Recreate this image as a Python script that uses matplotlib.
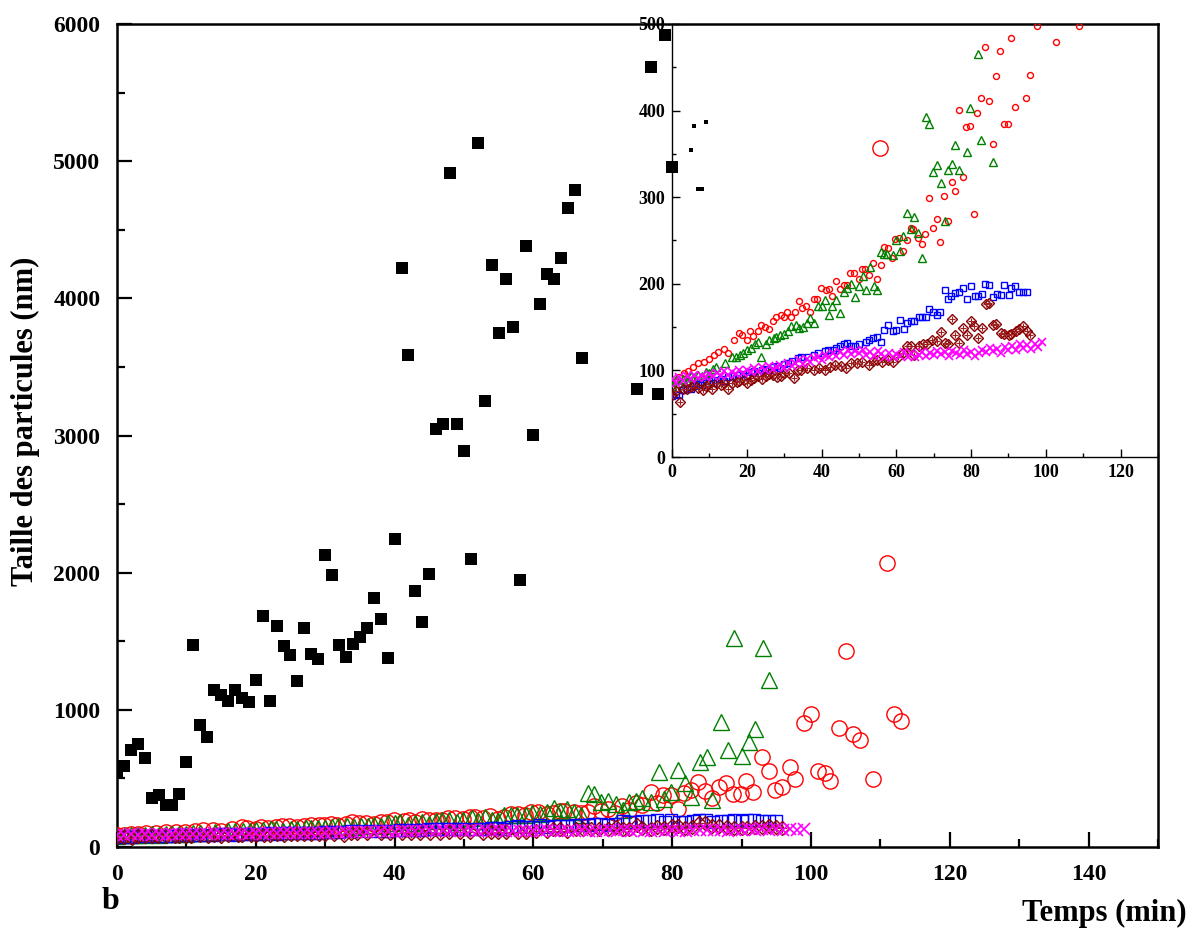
import matplotlib
matplotlib.use("Agg")
import matplotlib.pyplot as plt
from matplotlib.ticker import MultipleLocator

plt.rcParams['font.family'] = ['Liberation Serif', 'DejaVu Serif']
plt.rcParams['font.weight'] = 'bold'

# black filled squares
black_x = [0, 1, 2, 3, 4, 5, 6, 7, 8, 9, 10, 11, 12, 13, 14, 15, 16, 17, 18, 19,
           20, 21, 22, 23, 24, 25, 26, 27, 28, 29, 30, 31, 32, 33, 34, 35, 36, 37, 38, 39,
           40, 41, 42, 43, 44, 45, 46, 47, 48, 49, 50, 51, 52, 53, 54, 55, 56, 57, 58, 59,
           60, 61, 62, 63, 64, 65, 66, 67, 75, 77, 78, 79, 80]
black_y = [540, 590, 707, 749, 647, 355, 382, 310, 310, 387,
           620, 1475, 889, 802, 1147, 1108, 1067, 1142, 1086, 1057,
           1215, 1682, 1062, 1611, 1463, 1400, 1208, 1597, 1409, 1373,
           2126, 1981, 1475, 1387, 1480, 1531, 1599, 1813, 1660, 1378,
           2248, 4221, 3587, 1869, 1640, 1988, 3050, 3086, 4916, 3086,
           2885, 2102, 5130, 3249, 4243, 3750, 4143, 3791, 1949, 4381,
           3006, 3956, 4180, 4141, 4292, 4661, 4792, 3563, 3337, 5686, 3300, 5920, 4957]

# red open circles
red_x = [0, 1, 2, 3.1, 4.2, 5.6, 7.0, 8.5, 9.8, 11.2, 12.4, 13.8, 15.0, 16.6, 18.0, 18.8,
         20.0, 20.8, 21.8, 22.9, 23.8, 24.8, 25.9, 27.0, 27.9, 29.1, 29.9, 30.8, 31.7, 33.0,
         33.9, 34.9, 35.9, 37.0, 38.0, 38.9, 39.9, 41.3, 42.1, 42.9, 43.9, 44.9, 45.9, 46.9,
         47.7, 48.7, 49.9, 50.9, 51.6, 52.8, 53.8, 54.9, 55.8, 56.8, 57.8, 58.8, 59.7, 60.7,
         61.9, 62.8, 63.8, 64.4, 65.8, 66.8, 67.8, 68.8, 69.8, 70.8, 71.7, 72.8, 73.8, 74.8,
         75.7, 76.9, 77.8, 78.7, 79.8, 80.8, 81.7, 82.7, 83.7, 84.8, 85.8, 86.7, 87.7, 88.7,
         89.9, 90.7, 91.7, 93, 94, 94.8, 95.8, 97, 97.7, 99, 100, 101, 102, 102.7, 104, 105,
         106, 107, 108.9, 110, 111, 112, 113]
red_y = [85, 88, 92, 97, 99, 104, 109, 110, 113, 118, 121, 125, 120, 135, 143, 141,
         135, 145, 140, 146, 152, 150, 148, 157, 162, 164, 162, 167, 162, 168,
         180, 172, 174, 168, 183, 183, 195, 193, 194, 186, 203, 194, 199, 199,
         213, 212, 206, 217, 217, 210, 224, 206, 222, 242, 241, 230, 252, 253,
         238, 251, 264, 263, 253, 246, 257, 299, 265, 275, 248, 301, 272, 318,
         307, 401, 323, 381, 382, 281, 397, 415, 473, 411, 361, 440, 469, 385,
         385, 484, 404, 658, 556, 414, 441, 581, 498, 902, 967, 556, 537, 479, 865, 1429,
         824, 780, 498, 5100, 2070, 970, 920]

# green open triangles
green_x = [0, 1.1, 2, 3, 4, 5, 6, 7, 8, 9, 10, 10.9, 11.9, 14.1, 16.0, 17.0, 18.2, 19.1,
           20.1, 21.0, 22.2, 22.9, 23.9, 25.1, 26.0, 27.2, 27.9, 28.9, 30.0, 31.0, 31.9,
           33.1, 34.1, 35.1, 36.2, 37.0, 38.0, 39.1, 40.1, 40.8, 42.0, 42.9, 43.9, 44.9,
           45.9, 46.9, 47.8, 49.0, 49.9, 51.2, 52.0, 53.0, 54.0, 54.9, 55.8, 56.8, 57.6,
           59.0, 59.8, 61.0, 61.9, 62.9, 63.8, 64.8, 65.8, 66.9, 67.9, 68.8, 69.8, 70.8,
           71.9, 72.9, 73.8, 74.8, 75.7, 76.9, 78.1, 78.8, 79.8, 80.8, 81.8, 82.7, 84, 85,
           85.8, 87, 88, 88.9, 90, 91, 92, 93.1, 94]
green_y = [82, 89, 86, 90, 88, 93, 91, 95, 94, 98, 97, 102, 104, 108, 116, 116, 118, 120,
           123, 126, 131, 133, 116, 131, 135, 137, 139, 141, 142, 145, 151,
           152, 149, 150, 155, 160, 155, 174, 174, 181, 164, 174, 181, 166,
           190, 195, 200, 185, 197, 209, 193, 219, 198, 193, 237, 234, 234,
           233, 250, 238, 255, 282, 263, 277, 259, 230, 393, 385, 329, 337,
           316, 273, 331, 338, 360, 331, 549, 352, 403, 561, 465, 366, 617, 654,
           341, 914, 707, 1524, 663, 763, 858, 1451, 1217]

# blue open squares
blue_x = [0, 1, 2, 3, 4, 5, 6, 7, 8, 9, 10, 11, 12, 13, 14, 15, 16, 17, 18, 19, 20,
          21, 22, 23, 24, 25, 26, 27, 28, 29, 30, 31, 32, 33.7, 34.6, 36.5, 38.0, 39.1,
          40.8, 41.8, 43.0, 43.9, 44.9, 45.9, 46.9, 47.8, 49.0, 49.9, 51.8, 52.8, 53.9,
          54.9, 55.8, 56.8, 57.8, 59.0, 59.9, 61.0, 62.0, 62.9, 63.9, 64.8, 66.0, 66.9,
          67.9, 68.8, 69.8, 70.8, 71.8, 72.9, 73.8, 74.7, 75.7, 76.7, 77.8, 78.9, 79.9,
          81.0, 81.9, 83.0, 83.8, 84.9, 85.9, 87.0, 88.0, 88.9, 90.1, 90.8, 91.8, 92.9,
          93.9, 94.9]
blue_y = [70, 73, 72, 77, 79, 78, 82, 84, 83, 86, 88, 85, 89, 90, 88, 92, 93, 91, 95, 96, 94,
          98, 99, 97, 101, 102, 100, 104, 105, 103, 107, 109, 111, 114, 116, 116, 118, 120,
          122, 124, 124, 126, 128, 130, 132, 128, 128, 130, 133, 135, 137,
          139, 133, 147, 153, 146, 147, 158, 148, 155, 157, 157, 162, 162,
          162, 171, 168, 164, 167, 193, 183, 186, 189, 191, 195, 183, 197,
          186, 186, 188, 200, 199, 185, 188, 187, 199, 187, 195, 198, 190,
          190, 190]

# dark red crossed diamonds
brown_x = [0, 1, 2.1, 3, 4, 5, 5.9, 7, 8.3, 9, 10, 10.7, 12, 13.1, 14, 15, 16, 17.4, 18,
           19.3, 20, 21.2, 22, 23.1, 24, 25.1, 26, 27, 28, 29.1, 30, 31.3, 32.7,
           33.7, 34.6, 36.0, 38.0, 39.4, 41.0, 42.3, 43.7, 45.1, 46.6, 47.8, 49.4, 50.9,
           52.8, 53.9, 54.9, 56.1, 57.8, 59.0, 60.4, 61.9, 62.8, 63.8, 64.8, 66.2, 67.1,
           68.3, 69.5, 70.8, 71.9, 72.9, 73.8, 75.0, 75.7, 76.9, 77.8, 78.8, 80.0, 80.8,
           81.9, 82.8, 83.9, 84.8, 85.8, 86.7, 87.9, 88.9, 90.1, 90.8, 92.0, 92.9, 93.9,
           94.9, 95.8]
brown_y = [72, 76, 64, 78, 79, 81, 83, 80, 77, 82, 84, 79, 85, 83, 86, 79, 85, 87, 88,
           89, 86, 89, 91, 93, 90, 93, 96, 95, 92, 94, 97, 97, 91,
           101, 101, 103, 101, 103, 101, 104, 106, 105, 103, 109, 108, 110,
           106, 111, 112, 110, 112, 110, 116, 120, 128, 128, 118, 128, 131,
           131, 135, 134, 144, 132, 130, 159, 141, 132, 149, 141, 157, 151,
           137, 149, 177, 178, 153, 154, 143, 142, 141, 142, 145, 148, 151,
           146, 141]

# magenta crosses
mag_x = [0, 1, 2, 3, 4, 5, 6, 7, 8, 9, 10, 11, 12, 13, 14, 15, 16, 17, 18, 19,
         20, 21, 22, 23, 24, 25, 26, 27, 28, 29, 30, 31, 32, 33, 34, 35, 36, 37, 38, 39,
         40, 41, 42, 43, 44, 45, 46, 47, 48, 49, 50, 51, 52, 53, 54, 55, 56, 57, 58, 59,
         60, 61, 62, 63, 64, 65, 66, 67, 68, 69, 70, 71, 72, 73, 74, 75, 76, 77, 78, 79,
         80, 81, 82, 83, 84, 85, 86, 87, 88, 89, 90, 91, 92, 93, 94, 95, 96, 97, 98, 99]
mag_y = [90, 86, 92, 88, 93, 90, 95, 91, 94, 92, 96, 93, 97, 94, 99, 95, 98, 96, 101, 97,
         100, 98, 103, 99, 104, 101, 105, 102, 104, 106, 103, 108, 105, 109, 112, 107, 113, 110, 114, 116,
         112, 118, 115, 120, 117, 121, 118, 123, 119, 122, 120, 124, 118, 121, 117, 122, 119, 116, 120, 115,
         119, 117, 121, 116, 120, 115, 118, 121, 117, 120, 118, 122, 119, 121, 117, 122, 120, 118, 123, 119,
         121, 117, 120, 124, 121, 126, 122, 125, 120, 127, 123, 128, 124, 130, 126, 129, 125, 131, 127, 133]

main_sizes = {'black': 8.5, 'red': 11, 'green': 12, 'blue': 8, 'brown': 7, 'mag': 8.5}
inset_sizes = {'black': 3.3, 'red': 4.3, 'green': 5.5, 'blue': 4.2, 'brown': 5.0, 'mag': 5.5}


def draw_series(ax, sz):
    ax.plot(black_x, black_y, 's', color='black', ms=sz['black'], mew=0, zorder=3)
    ax.plot(red_x, red_y, 'o', mfc='none', mec='#ff0000', ms=sz['red'], mew=1.0, zorder=3)
    ax.plot(green_x, green_y, '^', mfc='none', mec='#008000', ms=sz['green'], mew=1.0, zorder=3)
    ax.plot(blue_x, blue_y, 's', mfc='none', mec='#0000ff', ms=sz['blue'], mew=1.0, zorder=3)
    ax.plot(brown_x, brown_y, 'D', mfc='none', mec='#8b0000', ms=sz['brown'], mew=1.0, zorder=3)
    ax.plot(brown_x, brown_y, '+', color='#a02020', ms=sz['brown'], mew=0.8, zorder=3)
    ax.plot(mag_x, mag_y, 'x', color='#ff00ff', ms=sz['mag'], mew=1.2, zorder=4)


fig = plt.figure(figsize=(11.9, 9.3), dpi=100)

ax = fig.add_axes([0.0983, 0.0892, 0.8748, 0.8849])
draw_series(ax, main_sizes)
ax.set_xlim(0, 150)
ax.set_ylim(0, 6000)
ax.xaxis.set_major_locator(MultipleLocator(20))
ax.xaxis.set_minor_locator(MultipleLocator(10))
ax.yaxis.set_major_locator(MultipleLocator(1000))
ax.yaxis.set_minor_locator(MultipleLocator(500))
ax.tick_params(which='both', direction='in', top=False, right=False, width=1.6)
ax.tick_params(which='major', length=11, labelsize=17)
ax.tick_params(axis='x', which='major', pad=12)
ax.tick_params(axis='y', which='major', pad=12)
ax.tick_params(which='minor', length=6)
for sp in ax.spines.values():
    sp.set_linewidth(1.8)

fig.text(25 / 1190, 0.547, 'Taille des particules (nm)', rotation=90,
         ha='center', va='center', fontsize=22, fontweight='bold')
fig.text(0.9975, 1 - 913 / 930, 'Temps (min)', ha='right', va='center',
         fontsize=22, fontweight='bold')
fig.text(110 / 1190, 1 - 901 / 930, 'b', ha='center', va='center',
         fontsize=23, fontweight='bold')

# inset
ins = fig.add_axes([0.5647, 0.5086, 0.4084, 0.4656])
ins.patch.set_alpha(0)
draw_series(ins, inset_sizes)
ins.set_xlim(0, 130)
ins.set_ylim(0, 500)
ins.xaxis.set_major_locator(MultipleLocator(20))
ins.xaxis.set_minor_locator(MultipleLocator(10))
ins.yaxis.set_major_locator(MultipleLocator(100))
ins.yaxis.set_minor_locator(MultipleLocator(50))
ins.tick_params(which='both', direction='in', top=False, right=False, width=1.0)
ins.tick_params(which='major', length=6, labelsize=13, pad=5)
ins.tick_params(which='minor', length=3)
ins.spines['top'].set_visible(False)
ins.spines['right'].set_visible(False)
ins.spines['left'].set_linewidth(1.0)
ins.spines['bottom'].set_linewidth(1.0)

fig.savefig('out.png', dpi=100)
